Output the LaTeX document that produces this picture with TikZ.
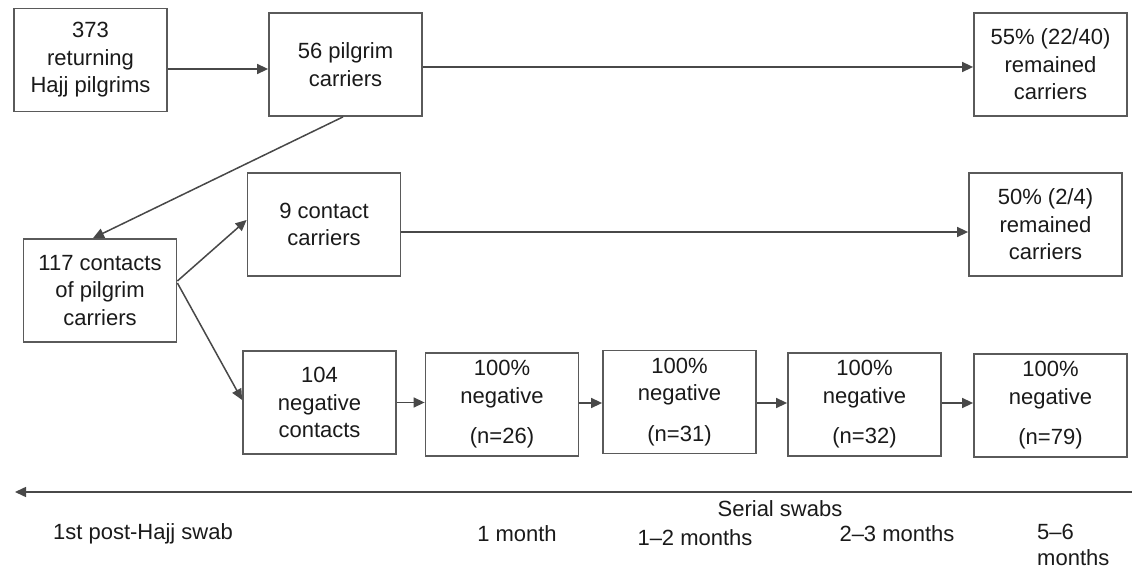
\documentclass[tikz,border=0pt]{standalone}
\usepackage{fontspec}
\setmainfont{Liberation Sans}
\usetikzlibrary{arrows.meta,calc}
\definecolor{linegray}{HTML}{484848}
\definecolor{boxgray}{HTML}{5A5A5A}
\definecolor{txt}{HTML}{1A1A1A}
\begin{document}
\begin{tikzpicture}[x=1pt,y=-1pt,
  flowbox/.style={draw=boxgray, line width=1.8pt, minimum width=153pt, minimum height=103pt,
    inner sep=0pt, align=center, text=txt, font=\fontsize{22}{27.5}\selectfont},
  conn/.style={draw=linegray, line width=1.5pt, -{Triangle[length=11pt,width=10pt]}},
  lbl/.style={text=txt, font=\fontsize{22}{26}\selectfont, inner sep=0pt}]
\useasboundingbox[fill=white] (0,0) rectangle (1132,569);
% boxes
\node[flowbox] (A) at (90.5,60) {373\\returning\\Hajj pilgrims};
\node[flowbox] (B) at (345.5,64.5) {56 pilgrim\\carriers};
\node[flowbox] (C) at (1050.5,64.5) {55\% (22/40)\\remained\\carriers};
\node[flowbox] (D) at (100,290.5) {117 contacts\\of pilgrim\\carriers};
\node[flowbox] (E) at (324,224.5) {9 contact\\carriers};
\node[flowbox] (F) at (1045.5,224.5) {50\% (2/4)\\remained\\carriers};
\node[flowbox] (G) at (319.5,402.5) {104\\negative\\contacts};
\node[flowbox] (H) at (502,404.5) {100\%\\negative\\[13pt](n=26)};
\node[flowbox] (I) at (679.5,402) {100\%\\negative\\[13pt](n=31)};
\node[flowbox] (J) at (864.5,404.5) {100\%\\negative\\[13pt](n=32)};
\node[flowbox] (K) at (1050.5,405.5) {100\%\\negative\\[13pt](n=79)};
% connectors
\draw[conn] ($(A.east)+(0,9)$) -- ($(B.west)+(0,4.5)$);
\draw[conn] ($(B.east)+(0,2.5)$) -- ($(C.west)+(0,2.5)$);
\draw[conn] ($(B.south)+(-2.5,0)$) -- ($(D.north)+(-7,0)$);
\draw[conn] ($(D.east)+(0,-9.5)$) -- ($(E.west)+(0,-4.5)$);
\draw[conn] ($(D.east)+(0,-7.5)$) -- ($(G.west)+(0,-2.5)$);
\draw[conn] ($(E.east)+(0,7.5)$) -- ($(F.west)+(0,7.5)$);
\draw[conn] (G.east) -- (G.east -| H.west);
\draw[conn] ($(H.east)+(0,-1.5)$) -- ($(I.west)+(0,1)$);
\draw[conn] ($(I.east)+(0,1)$) -- ($(J.west)+(0,-1.5)$);
\draw[conn] ($(J.east)+(0,-1.5)$) -- ($(K.west)+(0,-2.5)$);
% timeline
\coordinate (tR) at (1132,492);
\coordinate (tL) at (15,492);
\draw[conn] (tR) -- (tL);
% labels
\node[lbl, anchor=base] (l0) at (143,539) {1st post-Hajj swab};
\node[lbl, anchor=base] (l1) at (517,541) {1 month};
\node[lbl, anchor=base] (l2) at (695,545) {1–2 months};
\node[lbl, anchor=base] (ser) at (780,516) {Serial swabs};
\node[lbl, anchor=base] (l3) at (897,541) {2–3 months};
\node[lbl, anchor=north west, align=left] (l4) at (1037,524) {5–6\\months};
\end{tikzpicture}
\end{document}
